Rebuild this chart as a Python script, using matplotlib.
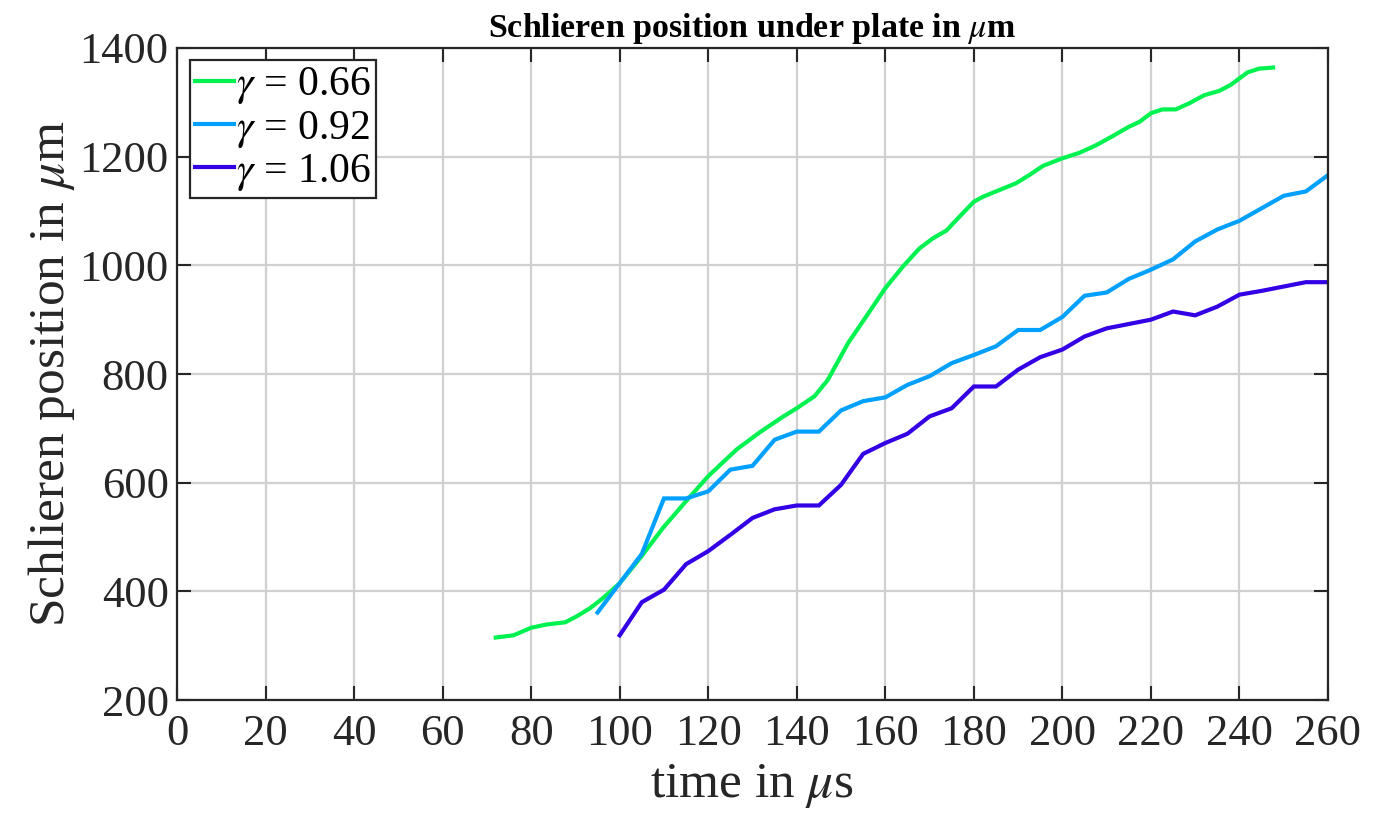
import matplotlib
matplotlib.use("Agg")
import matplotlib.pyplot as plt

t_066 = [72, 76, 80, 83.5, 87.7, 90.3, 93.3, 96.3, 100, 104.6, 109.8, 115, 120, 126.4,
         131.7, 137, 140, 144, 147, 151.6, 155.7, 160, 164, 167.7, 170.8, 173.8, 176.8,
         180, 182, 185, 189.5, 192.5, 195.6, 200, 203.8, 207.6, 211.4, 215, 217.4, 220,
         222.6, 225.6, 228.6, 232, 235.4, 238, 241.8, 244.4, 247.6]
v_066 = [315, 319, 333, 339, 343, 354, 369, 388, 415, 461, 517, 566, 612, 661,
         693, 722, 737, 759, 789, 857, 906, 958, 998, 1031, 1050, 1064, 1090,
         1117, 1126, 1136, 1151, 1166, 1183, 1197, 1207, 1221, 1238, 1255, 1264, 1280,
         1287, 1287, 1298, 1313, 1321, 1332, 1355, 1362, 1364]

t_092 = [95, 100, 105, 110, 115, 120, 125, 130, 135, 140, 145, 150, 155, 160, 165, 170,
         175, 180, 185, 190, 195, 200, 205, 210, 215, 220, 225, 230, 235, 240, 245, 250,
         255, 260]
v_092 = [361, 415, 469, 571, 571, 584, 624, 631, 679, 694, 694, 733, 750, 757, 780, 796,
         820, 835, 851, 881, 881, 905, 944, 950, 975, 992, 1011, 1044, 1066, 1082, 1105, 1128,
         1136, 1166]

t_106 = [100, 105, 110, 115, 120, 125, 130, 135, 140, 145, 150, 155, 160, 165, 170, 175,
         180, 185, 190, 195, 200, 205, 210, 215, 220, 225, 230, 235, 240, 245, 250, 255, 260]
v_106 = [319, 380, 403, 450, 474, 504, 535, 551, 558, 558, 596, 653, 673, 690, 722, 737,
         777, 777, 808, 831, 845, 869, 884, 892, 900, 915, 908, 924, 946, 953, 961, 969, 969]

labels = [r"$\gamma$ = 0.66", r"$\gamma$ = 0.92", r"$\gamma$ = 1.06"]
colors = ["#00f250", "#00a0ff", "#3300e6"]

xticks = list(range(0, 261, 20))
yticks = list(range(200, 1401, 200))

plt.rcParams["font.family"] = ["Liberation Serif", "DejaVu Serif"]
plt.rcParams["mathtext.fontset"] = "stix"

fig = plt.figure(figsize=(13.89, 8.21), dpi=100)
ax = fig.add_axes([177 / 1389, 121 / 821, (1328 - 177) / 1389, (700 - 48) / 821])

for t, v, lab, c in zip([t_066, t_092, t_106], [v_066, v_092, v_106], labels, colors):
    ax.plot(t, v, color=c, lw=3.0, label=lab, solid_joinstyle="miter")

ax.set_xlim(0, 260)
ax.set_ylim(200, 1400)
ax.set_xticks(xticks)
ax.set_yticks(yticks)
ax.grid(True, color="#d0d0d0", lw=1.6)
ax.set_axisbelow(True)
ax.tick_params(direction="in", length=10, width=1.5, top=True, right=True,
               labelsize=32, colors="#262626", pad=6)
ax.tick_params(axis="x", pad=10)
for s in ax.spines.values():
    s.set_color("#262626")
    s.set_linewidth(1.6)

ax.set_xlabel(r"time in $\mu$s", fontsize=37, color="#262626", labelpad=6)
ax.set_ylabel(r"Schlieren position in $\mu$m", fontsize=37, color="#262626", labelpad=2)
ax.set_title(r"Schlieren position under plate in $\mu$m", fontsize=24.5, fontweight="bold",
             pad=8)

leg = ax.legend(loc="upper left", fontsize=30, handlelength=0.95, handletextpad=0.05,
                borderpad=0.12, labelspacing=0.05, borderaxespad=0.3, fancybox=False,
                framealpha=1, edgecolor="#262626")
leg.get_frame().set_linewidth(1.6)

fig.savefig("out.png", dpi=100)
